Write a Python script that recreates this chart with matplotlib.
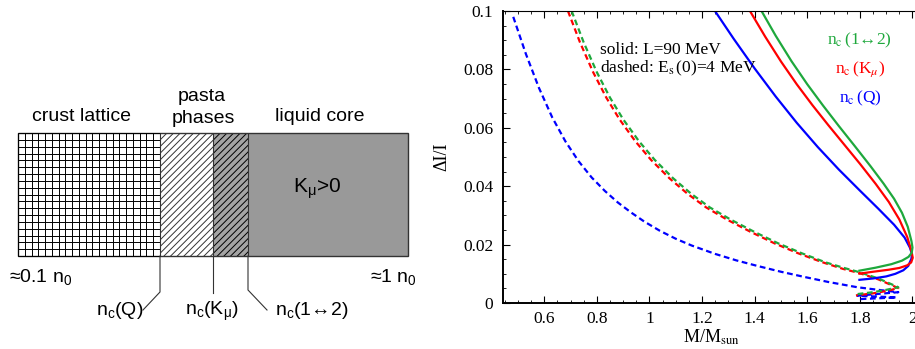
import numpy as np
import matplotlib
matplotlib.use('Agg')
import matplotlib.pyplot as plt
from matplotlib.patches import Rectangle

plt.rcParams['font.family'] = ['Liberation Serif', 'DejaVu Serif']
plt.rcParams['mathtext.fontset'] = 'custom'
plt.rcParams['mathtext.rm'] = 'Liberation Sans'
plt.rcParams['mathtext.it'] = 'Liberation Sans:italic'
plt.rcParams['hatch.linewidth'] = 0.7

# dI/I vs M/Msun, solid: L=90 MeV
m_q_solid = [1.249, 1.32, 1.40, 1.48, 1.56, 1.64, 1.72, 1.80, 1.87, 1.93, 1.97, 1.99, 1.998,
             1.996, 1.984, 1.965, 1.935, 1.90, 1.85, 1.794]
di_q_solid = [0.100, 0.0905, 0.0803, 0.0707, 0.0617, 0.0534, 0.0457, 0.0385, 0.0323, 0.0268, 0.0224, 0.0190, 0.0168,
              0.0152, 0.0127, 0.0112, 0.0100, 0.0091, 0.0084, 0.0079]
m_k_solid = [1.382, 1.44, 1.50, 1.56, 1.62, 1.68, 1.74, 1.80, 1.86, 1.91, 1.95, 1.98, 1.995, 2.001,
             1.995, 1.98, 1.95, 1.91, 1.85, 1.794]
di_k_solid = [0.100, 0.0912, 0.0827, 0.0749, 0.0677, 0.0609, 0.0543, 0.0477, 0.0408, 0.0346, 0.0286, 0.0226, 0.0181, 0.0155,
              0.0139, 0.0129, 0.0120, 0.0114, 0.0107, 0.0100]
m_12_solid = [1.426, 1.48, 1.54, 1.60, 1.66, 1.72, 1.78, 1.84, 1.89, 1.93, 1.96, 1.982, 1.996, 2.000,
              1.997, 1.985, 1.96, 1.92, 1.86, 1.794]
di_12_solid = [0.100, 0.0915, 0.0828, 0.0749, 0.0676, 0.0606, 0.0538, 0.0469, 0.0409, 0.0357, 0.0309, 0.0261, 0.0212, 0.0190,
               0.0172, 0.0158, 0.0145, 0.0133, 0.0121, 0.0110]

# dashed: Es(0)=4 MeV
m_q_dash = [0.482, 0.53, 0.58, 0.63, 0.68, 0.73, 0.78, 0.83, 0.88, 0.93, 0.98, 1.04, 1.10, 1.16,
            1.25, 1.33, 1.41, 1.50, 1.59, 1.68, 1.79, 1.87, 1.946, 1.79, 1.94, 1.79]
di_q_dash = [0.0980, 0.0853, 0.0736, 0.0636, 0.0554, 0.0486, 0.0430, 0.0384, 0.0344, 0.0310, 0.0279, 0.0247, 0.0220, 0.0197,
             0.0168, 0.0146, 0.0127, 0.0107, 0.0089, 0.0072, 0.0054, 0.0045, 0.0037, 0.0025, 0.0019, 0.0013]
m_k_dash = [0.690, 0.736, 0.786, 0.836, 0.886, 0.946, 1.006, 1.076, 1.146, 1.216, 1.296, 1.386, 1.476,
            1.566, 1.656, 1.735, 1.80, 1.87, 1.946, 1.90, 1.85, 1.785]
di_k_dash = [0.100, 0.0892, 0.0790, 0.0703, 0.0629, 0.0554, 0.0490, 0.0427, 0.0373, 0.0327, 0.0285, 0.0243, 0.0204,
             0.0170, 0.0140, 0.0117, 0.0102, 0.0081, 0.0051, 0.0041, 0.0033, 0.0026]
m_12_dash = [0.704, 0.75, 0.80, 0.85, 0.90, 0.96, 1.02, 1.09, 1.16, 1.23, 1.31, 1.40, 1.49,
             1.58, 1.67, 1.74, 1.80, 1.87, 1.946, 1.90, 1.85, 1.785]
di_12_dash = [0.100, 0.0892, 0.0790, 0.0703, 0.0629, 0.0554, 0.0490, 0.0427, 0.0373, 0.0327, 0.0285, 0.0243, 0.0204,
              0.0170, 0.0139, 0.0120, 0.0105, 0.0084, 0.0054, 0.0045, 0.0037, 0.0030]

x_ticks = [0.6, 0.8, 1.0, 1.2, 1.4, 1.6, 1.8, 2.0]
x_ticklabels = ['0.6', '0.8', '1', '1.2', '1.4', '1.6', '1.8', '2']
y_ticks = [0, 0.02, 0.04, 0.06, 0.08, 0.1]
y_ticklabels = ['0', '0.02', '0.04', '0.06', '0.08', '0.1']

BLUE = '#0000ff'
RED = '#ff0000'
GREEN = '#1ea83c'

fig = plt.figure(figsize=(9.15, 3.49), dpi=100)

# ---- left: sketch of the inner crust ----
ax0 = fig.add_axes([0, 0, 440 / 915, 1])
ax0.set_xlim(0, 440)
ax0.set_ylim(349, 0)
ax0.axis('off')

x0, x1, x2, x3, x4 = 18, 160, 213, 248, 408
top, bot = 133, 256
sans = ['Liberation Sans', 'DejaVu Sans']

ax0.add_patch(Rectangle((x0, top), x1 - x0, bot - top, facecolor='white', lw=0))
ax0.vlines(np.linspace(x0, x1, 22), top, bot, color='k', lw=0.7)
ax0.hlines(np.linspace(top, bot, 19), x0, x1, color='k', lw=0.7)
ax0.add_patch(Rectangle((x1, top), x2 - x1, bot - top, facecolor='white',
                        edgecolor='#333333', hatch='/////', lw=0))
ax0.add_patch(Rectangle((x2, top), x3 - x2, bot - top, facecolor='#a4a4a4',
                        edgecolor='black', hatch='/////', lw=0))
ax0.add_patch(Rectangle((x3, top), x4 - x3, bot - top, facecolor='#999999', lw=0))
ax0.add_patch(Rectangle((x0, top), x4 - x0, bot - top, fill=False, edgecolor='#333333', lw=1.0))
ax0.vlines([x1, x2, x3], top, bot, color='#333333', lw=0.8)

# pointers to the critical densities
ax0.plot([x1, x1, 143], [bot, 292, 310], color='#333333', lw=0.8)
ax0.plot([x2, x2], [bot, 293], color='#333333', lw=0.8)
ax0.plot([x3, x3, 267], [bot, 290, 310], color='#333333', lw=0.8)

ax0.text(82, 121, 'crust lattice', family=sans, fontsize=14, ha='center', va='baseline')
ax0.text(202, 101, 'pasta', family=sans, fontsize=14, ha='center', va='baseline')
ax0.text(203, 123, 'phases', family=sans, fontsize=14, ha='center', va='baseline')
ax0.text(320, 121, 'liquid core', family=sans, fontsize=14, ha='center', va='baseline')
ax0.text(317, 193, r'K$_\mathrm{μ}$>0', family=sans, fontsize=15, ha='center', va='baseline')
ax0.text(9, 282, r'≈0.1 n$_\mathrm{0}$', family=sans, fontsize=14, ha='left', va='baseline')
ax0.text(417, 282, r'≈1 n$_\mathrm{0}$', family=sans, fontsize=14, ha='right', va='baseline')
ax0.text(120, 315, r'n$_\mathrm{c}$(Q)', family=sans, fontsize=14, ha='center', va='baseline')
ax0.text(212, 315, r'n$_\mathrm{c}$(K$_\mathrm{μ}$)', family=sans, fontsize=14, ha='center', va='baseline')
ax0.text(275, 315, r'n$_\mathrm{c}$(1↔2)', family=sans, fontsize=14, ha='left', va='baseline')

# ---- right: fractional moment of inertia ----
ax = fig.add_axes([503 / 915, 46 / 349, 412 / 915, 292 / 349])
solid_kw = dict(lw=1.6, solid_capstyle='butt', solid_joinstyle='round')
dash_kw = dict(lw=1.6, dashes=(2.6, 1.6))
ax.plot(m_q_dash, di_q_dash, color=BLUE, **dash_kw)
ax.plot(m_k_dash, di_k_dash, color=RED, **dash_kw)
ax.plot(m_12_dash, di_12_dash, color=GREEN, **dash_kw)
ax.plot(m_q_solid, di_q_solid, color=BLUE, **solid_kw)
ax.plot(m_k_solid, di_k_solid, color=RED, **solid_kw)
ax.plot(m_12_solid, di_12_solid, color=GREEN, **solid_kw)

ax.set_xlim(0.443, 0.443 + 412 / 263)
ax.set_ylim(0, 0.1)
ax.set_xticks(x_ticks)
ax.set_xticklabels(x_ticklabels)
ax.set_yticks(y_ticks)
ax.set_yticklabels(y_ticklabels)
ax.set_xticks(np.arange(0.45, 2.01, 0.05), minor=True)
ax.set_yticks(np.arange(0, 0.1001, 0.005), minor=True)
ax.tick_params(which='both', direction='in', top=True, right=False, labelsize=12.5)
ax.tick_params(which='major', length=5, width=0.8)
ax.tick_params(which='minor', length=2.5, width=0.6)
ax.tick_params(axis='x', pad=6)
ax.tick_params(axis='y', pad=7)
ax.spines['right'].set_visible(False)
ax.spines['left'].set_linewidth(1.4)
ax.spines['bottom'].set_linewidth(1.4)
ax.spines['top'].set_linewidth(0.8)

ax.set_xlabel(r'M/M$_\mathrm{sun}$', fontsize=13, math_fontfamily='stix')
ax.xaxis.set_label_coords(0.505, -0.085)
ax.set_ylabel('ΔI/I', fontsize=13)
ax.yaxis.set_label_coords(-0.127, 0.5)

ax.text(0.812, 0.0868, 'solid: L=90 MeV', fontsize=12.5, va='center')
ax.text(0.812, 0.0802, r'dashed: E$_\mathrm{s}\,$(0)=4 MeV', fontsize=12.5, va='center',
        math_fontfamily='stix')
ax.text(1.80, 0.090, r'n$_\mathrm{c}\,$(1↔2)', color=GREEN, fontsize=12.5, ha='center', va='center',
        math_fontfamily='stix')
ax.text(1.80, 0.080, r'n$_\mathrm{c}\,$(K$_\mu$)', color=RED, fontsize=12.5, ha='center', va='center',
        math_fontfamily='stix')
ax.text(1.80, 0.070, r'n$_\mathrm{c}\,$(Q)', color=BLUE, fontsize=12.5, ha='center', va='center',
        math_fontfamily='stix')

fig.savefig('out.png', dpi=100)
plt.close()
